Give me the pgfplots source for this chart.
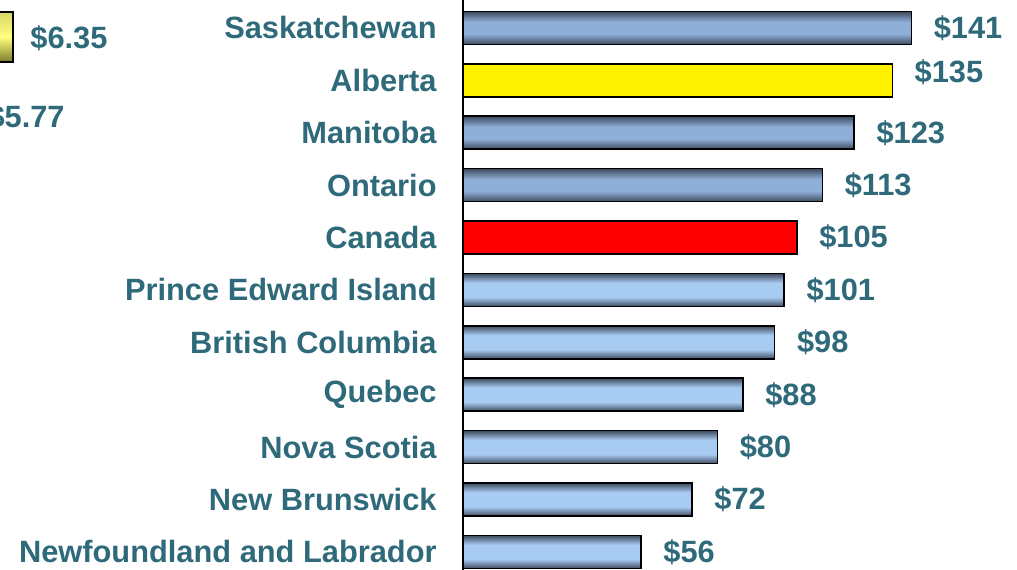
\documentclass[border=0pt]{standalone}
\usepackage{fontspec}
\setmainfont{Liberation Sans}
\usepackage{pgfplots}
\pgfplotsset{compat=1.18}
\definecolor{labc}{HTML}{2E6A7A}
\definecolor{bdark}{HTML}{3E4B5E}
\definecolor{blight}{HTML}{A8CBF2}
\definecolor{bmid}{HTML}{90AFD8}
\definecolor{ydark}{HTML}{7D7A2A}
\definecolor{ylight}{HTML}{FFFF80}
% tikz maps the 25bp..75bp band of a shading onto the path
\pgfdeclareverticalshading{lightshade}{100bp}{color(0bp)=(bdark); color(25bp)=(bdark); color(39bp)=(blight); color(61bp)=(blight); color(75bp)=(bdark); color(100bp)=(bdark)}
\pgfdeclareverticalshading{darkshade}{100bp}{color(0bp)=(bdark); color(25bp)=(bdark); color(41bp)=(bmid); color(59bp)=(bmid); color(75bp)=(bdark); color(100bp)=(bdark)}
\newcommand{\lab}{\fontsize{15.4}{18}\selectfont\bfseries}
\pgfplotsset{
  barbase/.style={xbar, bar width=16.5pt, bar shift=0pt, draw=black, line width=0.8pt},
  darkbar/.style={barbase, shade, shading=darkshade},
  lightbar/.style={barbase, shade, shading=lightshade},
}
\begin{document}
\begin{tikzpicture}
\begin{axis}[
    name=ax,
    scale only axis,
    width=277pt, height=285pt,
    xmin=0, xmax=174.2,
    ymin=-0.344, ymax=10.534,
    hide x axis,
    axis y line*=left,
    y axis line style={-, line width=1pt, black},
    ytick={0,...,10},
    yticklabels={Newfoundland and Labrador, New Brunswick, Nova Scotia, Quebec,
      British Columbia, Prince Edward Island, Canada, Ontario, Manitoba,
      Alberta, Saskatchewan},
    major tick length=0pt,
    yticklabel style={font=\lab, text=labc, inner sep=0pt, xshift=-13pt},
    /pgf/number format/assume math mode=true,
    clip=false,
  ]
  % one plot per bar, so each bar gets its own shading
  \addplot[darkbar] coordinates {(141,10)};  % Saskatchewan
  \addplot[barbase, fill=yellow] coordinates {(135,9)};  % Alberta
  \addplot[darkbar] coordinates {(123,8)};   % Manitoba
  \addplot[darkbar] coordinates {(113,7)};   % Ontario
  \addplot[barbase, fill=red] coordinates {(105,6)};  % Canada
  \addplot[lightbar] coordinates {(101,5)};  % PEI
  \addplot[lightbar] coordinates {(98,4)};   % BC
  \addplot[lightbar] coordinates {(88,3)};   % Quebec
  \addplot[lightbar] coordinates {(80,2)};   % Nova Scotia
  \addplot[lightbar] coordinates {(72,1)};   % New Brunswick
  \addplot[lightbar] coordinates {(56,0)};   % Newfoundland and Labrador
  % value labels
  \addplot[draw=none, mark=none, point meta=x,
    nodes near coords={\$\pgfmathprintnumber{\pgfplotspointmeta}},
    nodes near coords style={anchor=west, font=\lab, text=labc, inner sep=0pt, xshift=11pt}]
    coordinates {(141,10) (123,8) (113,7) (105,6) (101,5) (98,4) (88,3) (80,2) (72,1) (56,0)};
  \addplot[draw=none, mark=none, point meta=x,
    nodes near coords={\$\pgfmathprintnumber{\pgfplotspointmeta}},
    nodes near coords style={anchor=west, font=\lab, text=labc, inner sep=0pt, xshift=11pt, yshift=4pt}]
    coordinates {(135,9)};
\end{axis}
% fragments of a neighbouring chart, cut off at the left edge
\draw[black, line width=0.8pt, top color=ylight!70!ydark, bottom color=ydark, middle color=ylight]
  ([xshift=-240pt,yshift=-6pt]ax.north west) rectangle ([xshift=-225pt,yshift=-31pt]ax.north west);
\node[anchor=west, font=\lab, text=labc, inner sep=0pt] at ([xshift=-216.5pt,yshift=-19pt]ax.north west) {\$6.35};
\node[anchor=east, font=\lab, text=labc, inner sep=0pt] at ([xshift=-199pt,yshift=-58.5pt]ax.north west) {\$5.77};
\pgfresetboundingbox
\path[use as bounding box] ([xshift=-231.5pt]ax.south west) rectangle (ax.north east);
\end{tikzpicture}
\end{document}
